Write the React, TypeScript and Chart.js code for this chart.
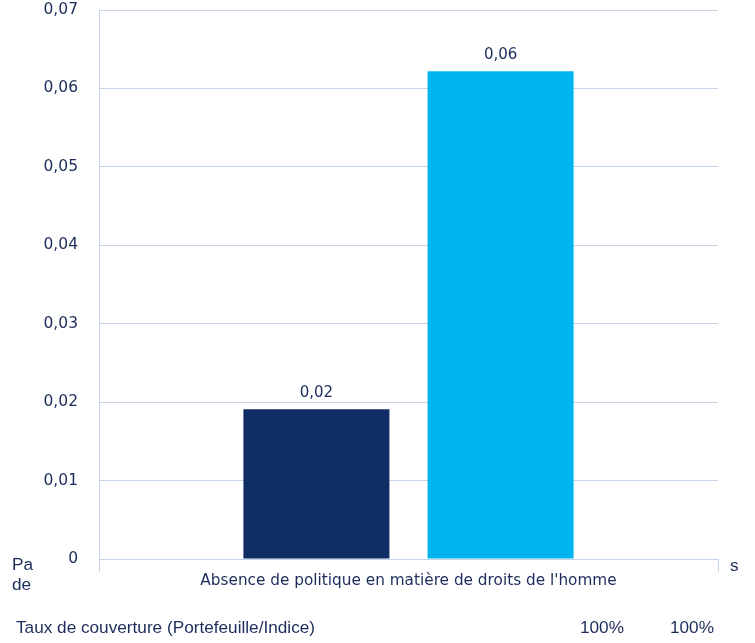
import React, { useEffect, useRef } from "react";
import { Chart, registerables } from "chart.js";

Chart.register(...registerables);

const categories = ["Absence de politique en matière de droits de l'homme"];
const seriesNames = ["Portefeuille", "Indice"];
const portfolioValues = [0.0191];
const indexValues = [0.0622];
const yTicks = [0, 0.01, 0.02, 0.03, 0.04, 0.05, 0.06, 0.07];
const coverageLabel = "Taux de couverture (Portefeuille/Indice)";
const coverageValues = ["100%", "100%"];

const TEXT = "#1b2c5a";
const GRID = "#c6d4ea";
const fmt = (v: number) => v.toFixed(2).replace(".", ",");

const valueLabels = {
  id: "valueLabels",
  afterDatasetsDraw(chart: any) {
    const ctx = chart.ctx;
    ctx.save();
    ctx.font = "15px 'DejaVu Sans'";
    ctx.fillStyle = TEXT;
    ctx.textAlign = "center";
    ctx.textBaseline = "alphabetic";
    chart.data.datasets.forEach((ds: any, i: number) => {
      const meta = chart.getDatasetMeta(i);
      meta.data.forEach((bar: any, j: number) => {
        ctx.fillText(fmt(ds.data[j]), bar.x, bar.y - 12);
      });
    });
    ctx.restore();
  },
};

export default function App() {
  const ref = useRef<HTMLCanvasElement>(null);
  useEffect(() => {
    document.body.style.margin = "0";
    const chart = new Chart(ref.current!, {
      type: "bar",
      data: {
        labels: categories,
        datasets: [
          { label: seriesNames[0], data: portfolioValues, backgroundColor: "#112d66" },
          { label: seriesNames[1], data: indexValues, backgroundColor: "#00b5ee" },
        ],
      },
      options: {
        animation: false,
        responsive: false,
        layout: { padding: { left: 0, right: 37, top: 10, bottom: 0 } },
        plugins: { legend: { display: false }, tooltip: { enabled: false } },
        datasets: { bar: { categoryPercentage: 0.595, barPercentage: 0.793 } } as any,
        scales: {
          x: {
            grid: { drawOnChartArea: false, drawTicks: true, tickLength: 13, color: GRID, offset: true },
            border: { color: GRID },
            ticks: { color: TEXT, font: { family: "DejaVu Sans", size: 15.3 }, padding: 0, maxRotation: 0 },
            afterFit: (s: any) => { s.height = 84; s.paddingLeft = 0; s.paddingRight = 0; },
          },
          y: {
            min: 0,
            max: 0.07,
            afterBuildTicks: (s: any) => { s.ticks = yTicks.map((v) => ({ value: v })); },
            grid: { color: GRID, drawTicks: false },
            border: { color: GRID },
            ticks: {
              color: TEXT,
              font: { family: "DejaVu Sans", size: 15.5 },
              padding: 21,
              callback: (v: any) => (v === 0 ? "0" : fmt(Number(v))),
            },
            afterFit: (s: any) => { s.width = 99; s.paddingTop = 0; s.paddingBottom = 0; },
          },
        },
      },
      plugins: [valueLabels],
    });
    return () => chart.destroy();
  }, []);

  const txt: React.CSSProperties = {
    position: "absolute",
    fontFamily: "'Liberation Sans', Arial, sans-serif",
    fontSize: 17.2,
    lineHeight: "17px",
    color: TEXT,
    whiteSpace: "nowrap",
  };

  return (
    <div style={{ position: "relative", width: 755, height: 643 }}>
      <canvas ref={ref} width={755} height={643} style={{ display: "block" }} />
      <div style={{ ...txt, left: 12, top: 556 }}>Pa</div>
      <div style={{ ...txt, left: 12, top: 576 }}>de</div>
      <div style={{ ...txt, left: 730, top: 557 }}>s</div>
      <div style={{ ...txt, left: 16, top: 619 }}>{coverageLabel}</div>
      <div style={{ ...txt, left: 580, top: 619 }}>{coverageValues[0]}</div>
      <div style={{ ...txt, left: 670, top: 619 }}>{coverageValues[1]}</div>
    </div>
  );
}
